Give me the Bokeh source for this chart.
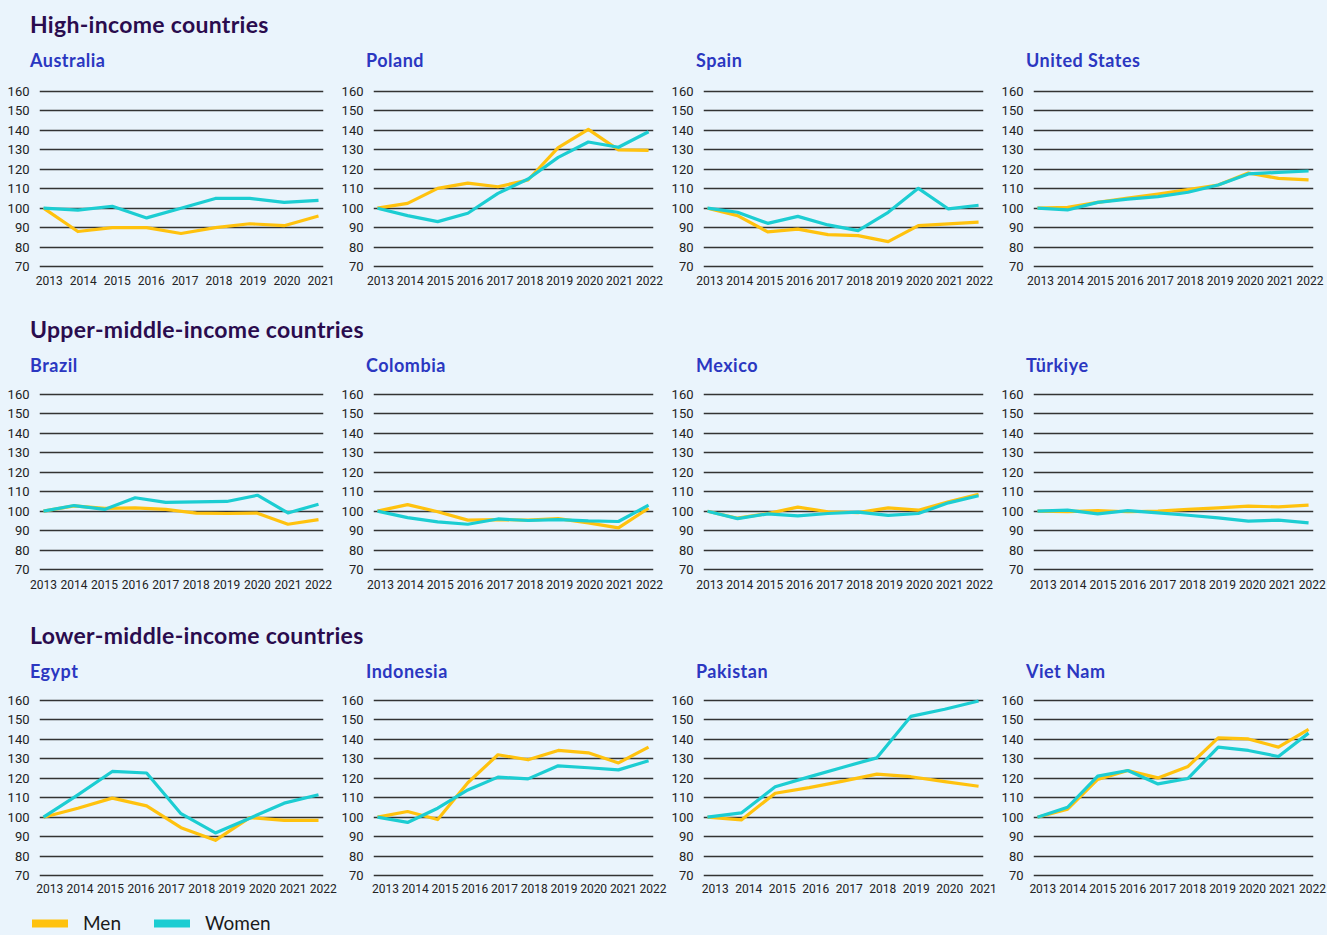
import numpy as np
from bokeh.plotting import figure
from bokeh.layouts import column, row
from bokeh.models import Div, Range1d, FixedTicker, Legend, LegendItem
from bokeh.embed import file_html
from bokeh.resources import INLINE

# ---------------- data ----------------
years_2013_2021 = list(range(2013, 2022))
years_2013_2022 = list(range(2013, 2023))
y_ticks = [70, 80, 90, 100, 110, 120, 130, 140, 150, 160]

group_titles = ["High-income countries", "Upper-middle-income countries", "Lower-middle-income countries"]
group_countries = [
    ["Australia", "Poland", "Spain", "United States"],
    ["Brazil", "Colombia", "Mexico", "Türkiye"],
    ["Egypt", "Indonesia", "Pakistan", "Viet Nam"],
]

# High-income
australia_years = years_2013_2021
australia_labels = years_2013_2021
australia_men = [100, 88, 90, 90, 87, 90, 92, 91, 96]
australia_women = [100, 99, 101, 95, 100, 105, 105, 103, 104]

poland_years = years_2013_2022
poland_labels = years_2013_2022
poland_men = [100, 102.5, 110.2, 112.9, 111, 114.5, 131.1, 140.5, 130, 129.7]
poland_women = [100, 96.2, 93.1, 97.4, 107.6, 115, 126.1, 134, 131.3, 139.3]

spain_years = years_2013_2022
spain_labels = years_2013_2022
spain_men = [100, 96.2, 87.8, 89.2, 86.4, 85.9, 82.8, 91, 91.9, 92.8]
spain_women = [100, 97.9, 92.2, 95.8, 91.4, 88.5, 97.9, 110.2, 99.6, 101.5]

us_years = years_2013_2022
us_labels = years_2013_2022
us_men = [100, 100.4, 103, 105.2, 107.3, 109.5, 111.9, 118.1, 115.3, 114.6]
us_women = [100, 99.1, 103, 104.7, 105.9, 108.2, 111.9, 117.6, 118.4, 119.1]

# Upper-middle-income
brazil_years = years_2013_2022
brazil_labels = years_2013_2022
brazil_men = [100, 102.7, 101.4, 101.7, 100.9, 99, 98.8, 99, 93.3, 95.7]
brazil_women = [100, 102.9, 100.9, 106.9, 104.5, 104.8, 105, 108.2, 99.1, 103.6]

colombia_years = years_2013_2022
colombia_labels = years_2013_2022
colombia_men = [100, 103.4, 99.7, 95.4, 95.7, 95.4, 96.2, 94, 91.4, 101.5]
colombia_women = [100, 96.7, 94.5, 93.3, 96, 95.2, 95.7, 95, 94.7, 103.1]

mexico_years = years_2013_2022
mexico_labels = years_2013_2022
mexico_men = [100, 96.4, 98.8, 102.1, 99.7, 99.3, 101.7, 100.5, 104.8, 108.7]
mexico_women = [100, 96.2, 98.6, 97.6, 98.8, 99.5, 97.8, 98.8, 104.3, 107.9]

turkiye_years = years_2013_2022
turkiye_labels = years_2013_2022
turkiye_men = [100, 99.8, 100.3, 99.7, 100, 100.9, 101.7, 102.6, 102.2, 103.1]
turkiye_women = [100, 100.5, 98.6, 100.3, 99.1, 97.9, 96.6, 94.9, 95.4, 94]

# Lower-middle-income
egypt_years = years_2013_2021
egypt_labels = years_2013_2022
egypt_men = [100, 104.6, 109.8, 105.8, 94.6, 88.1, 99.8, 98.4, 98.4]
egypt_women = [100, 111.5, 123.5, 122.7, 101.8, 91.9, 99.5, 107.2, 111.5]

indonesia_years = years_2013_2022
indonesia_labels = years_2013_2022
indonesia_men = [100, 102.9, 98.8, 117.7, 132.1, 129.5, 134.3, 133.1, 127.9, 136]
indonesia_women = [100, 97.3, 104.6, 114, 120.6, 119.7, 126.4, 125.4, 124.3, 129]

pakistan_years = years_2013_2021
pakistan_labels = years_2013_2021
pakistan_men = [100, 98.6, 112.3, 115.2, 118.5, 122.1, 120.8, 118.3, 115.9]
pakistan_women = [100, 102.2, 115.6, 120.7, 125.7, 130.5, 151.8, 155.5, 159.7]

vietnam_years = years_2013_2022
vietnam_labels = years_2013_2022
vietnam_men = [100, 104.1, 119.4, 124, 120.2, 126.1, 140.8, 140.2, 136, 145.1]
vietnam_women = [100, 105.1, 121.1, 124, 117.1, 119.9, 136, 134.3, 131.2, 143.2]

series = {
    "Australia": (australia_years, australia_labels, australia_men, australia_women),
    "Poland": (poland_years, poland_labels, poland_men, poland_women),
    "Spain": (spain_years, spain_labels, spain_men, spain_women),
    "United States": (us_years, us_labels, us_men, us_women),
    "Brazil": (brazil_years, brazil_labels, brazil_men, brazil_women),
    "Colombia": (colombia_years, colombia_labels, colombia_men, colombia_women),
    "Mexico": (mexico_years, mexico_labels, mexico_men, mexico_women),
    "Türkiye": (turkiye_years, turkiye_labels, turkiye_men, turkiye_women),
    "Egypt": (egypt_years, egypt_labels, egypt_men, egypt_women),
    "Indonesia": (indonesia_years, indonesia_labels, indonesia_men, indonesia_women),
    "Pakistan": (pakistan_years, pakistan_labels, pakistan_men, pakistan_women),
    "Viet Nam": (vietnam_years, vietnam_labels, vietnam_men, vietnam_women),
}

# ---------------- style / layout ----------------
BG = "#eaf4fc"
MEN_C = "#ffc20e"
WOMEN_C = "#1ccdd2"
GRID_C = "#333333"
TICK_C = "#222222"
GROUP_C = "#2a0c4e"
COUNTRY_C = "#2b37c1"
TITLE_FONT = "Lato, 'Open Sans', sans-serif"
TICK_FONT = "Roboto, sans-serif"

PLOT_W = 284
PLOT_H = 179
COL_W = [338, 330, 330, 329]
COL_LEFT = [39, 31, 31, 31]
TITLE_PAD = [30, 28, 28, 28]
ROW_TOP = [13, 11, 11]
ROW_BOTTOM = [45, 48, 22]
ROW_STANDOFF = [1, 2, 0]
# horizontal shift (in years) of first / last tick label relative to first / last data point
TICK_SHIFT = {
    "Australia": (0.17, 0.07), "Poland": (0.1, 0.03), "Spain": (0.08, 0.03),
    "United States": (0.1, 0.05), "Brazil": (0.0, 0.0), "Colombia": (0.1, 0.03),
    "Mexico": (0.08, 0.03), "Türkiye": (0.19, 0.12), "Egypt": (0.18, 0.14),
    "Indonesia": (0.27, 0.15), "Pakistan": (0.23, 0.14), "Viet Nam": (0.18, 0.13),
}


def make_panel(name, col, r):
    yrs, labels, men, women = series[name]
    ppy = (PLOT_W - 9) / (yrs[-1] - yrs[0])
    x_end = yrs[-1] + 5 / ppy
    xr = Range1d(yrs[0] - 4 / ppy, x_end)
    w = COL_W[col]
    left = COL_LEFT[col]
    p = figure(width=w, height=ROW_TOP[r] + PLOT_H + ROW_BOTTOM[r],
               x_range=xr, y_range=Range1d(69, 161),
               output_backend="svg", toolbar_location=None,
               min_border_left=left, min_border_right=w - left - PLOT_W,
               min_border_top=ROW_TOP[r], min_border_bottom=ROW_BOTTOM[r])
    p.background_fill_color = BG
    p.border_fill_color = BG
    p.outline_line_color = None

    a, b = TICK_SHIFT[name]
    last = min(yrs[-1] + b, x_end - 0.005)
    pos = [round(float(t), 4) for t in np.linspace(yrs[0] + a, last, len(labels))]
    p.xaxis.ticker = FixedTicker(ticks=pos)
    p.xaxis.major_label_overrides = {t: str(l) for t, l in zip(pos, labels)}
    p.yaxis.ticker = FixedTicker(ticks=y_ticks)
    for ax in (p.xaxis[0], p.yaxis[0]):
        ax.axis_line_color = None
        ax.major_tick_line_color = None
        ax.minor_tick_line_color = None
        ax.major_label_text_font = TICK_FONT
        ax.major_label_text_color = TICK_C
    p.xaxis.major_label_text_font_size = "12px"
    p.yaxis.major_label_text_font_size = "13px"
    p.xaxis.major_label_standoff = ROW_STANDOFF[r]
    p.yaxis.major_label_standoff = 4

    p.xgrid.grid_line_color = None
    p.ygrid.ticker = FixedTicker(ticks=y_ticks)
    p.ygrid.grid_line_color = GRID_C
    p.ygrid.grid_line_width = 1.3

    p.line(yrs, men, line_color=MEN_C, line_width=3.2, line_join="round")
    p.line(yrs, women, line_color=WOMEN_C, line_width=3.2, line_join="round")

    title = Div(text=f'<div style="font-family:{TITLE_FONT};font-weight:bold;font-size:18px;'
                     f'letter-spacing:0.5px;color:{COUNTRY_C};line-height:32px;'
                     f'padding-left:{TITLE_PAD[col]}px;white-space:nowrap">{name}</div>',
                width=w, height=32, margin=0)
    return column(title, p, spacing=0, margin=0)


blocks = []
for r, (gt, countries) in enumerate(zip(group_titles, group_countries)):
    pad_top = 8 if r == 0 else 0
    blocks.append(Div(text=f'<div style="font-family:{TITLE_FONT};font-weight:bold;font-size:23px;'
                           f'letter-spacing:0.3px;color:{GROUP_C};line-height:33px;padding-left:30px;'
                           f'padding-top:{pad_top}px;white-space:nowrap">{gt}</div>',
                      width=1327, height=36 + pad_top, margin=0))
    blocks.append(row(*[make_panel(c, i, r) for i, c in enumerate(countries)], spacing=0, margin=0))

# legend
lg = figure(width=1327, height=35, output_backend="svg", toolbar_location=None,
            x_range=Range1d(0, 1), y_range=Range1d(0, 1),
            x_axis_location=None, y_axis_location=None, min_border=0)
lg.background_fill_color = BG
lg.border_fill_color = BG
lg.outline_line_color = None
lg.grid.visible = False
rm = lg.line([-5, -4], [-5, -4], line_color=MEN_C, line_width=8, line_cap="round")
rw = lg.line([-5, -4], [-5, -4], line_color=WOMEN_C, line_width=8, line_cap="round")
legend = Legend(items=[LegendItem(label="Men", renderers=[rm]),
                       LegendItem(label="Women", renderers=[rw])],
                orientation="horizontal", location=(32, 0),
                padding=0, margin=0, spacing=33, glyph_width=36, glyph_height=20,
                label_standoff=15, label_text_font=TITLE_FONT, label_text_font_size="19px",
                label_text_color="#1a1a1a", border_line_color=None, background_fill_alpha=0)
lg.add_layout(legend)
blocks.append(lg)

page = column(*blocks, spacing=0, margin=0, styles={"background-color": BG})

html = file_html(page, INLINE).replace("<head>", "<head><style>html,body{background:%s}</style>" % BG, 1)
open("out.html", "w").write(html)
